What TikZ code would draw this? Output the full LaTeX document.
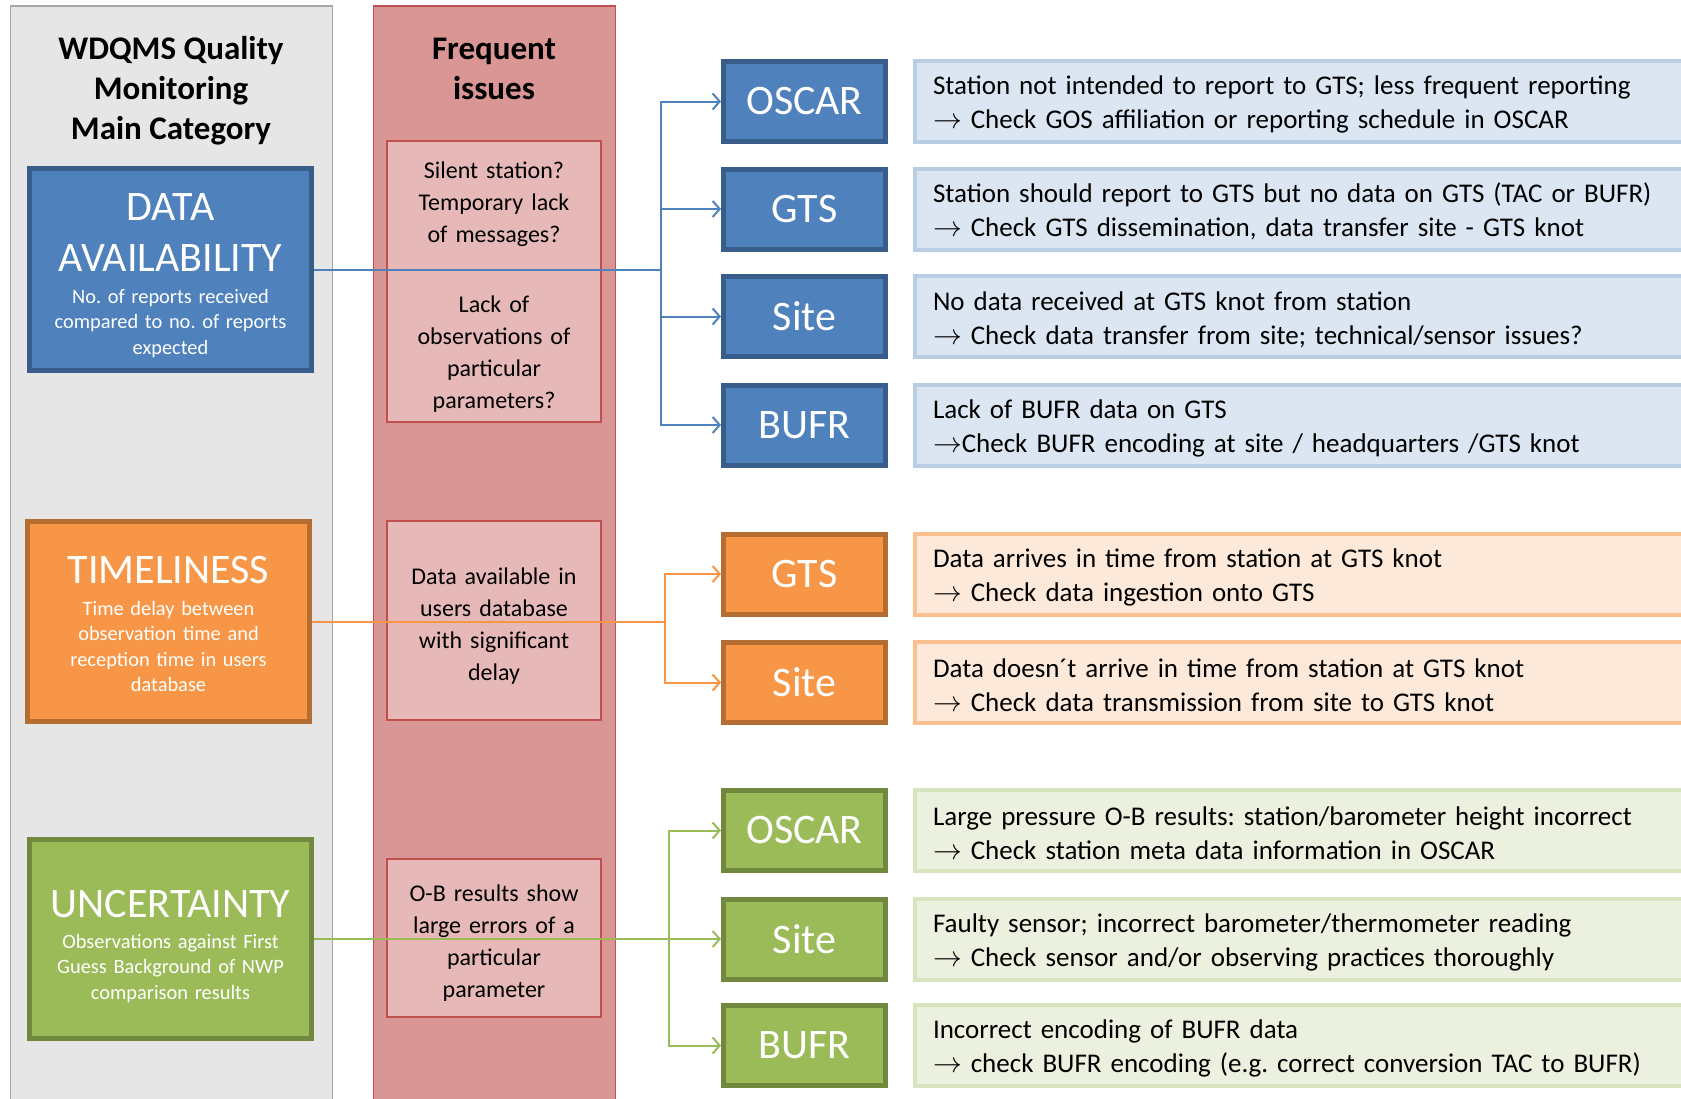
\documentclass[tikz,border=0pt]{standalone}
\usepackage{fontspec}
\setmainfont{Carlito}
\usetikzlibrary{arrows.meta}
\definecolor{colgray}{HTML}{E6E6E6}
\definecolor{colgrayb}{HTML}{A6A6A6}
\definecolor{colred}{HTML}{D99694}
\definecolor{colredb}{HTML}{C0504D}
\definecolor{colredin}{HTML}{E6B9B8}
\definecolor{cblue}{HTML}{4F81BD}
\definecolor{cblueb}{HTML}{385D8A}
\definecolor{lblue}{HTML}{DCE6F2}
\definecolor{lblueb}{HTML}{B9CDE5}
\definecolor{corange}{HTML}{F79646}
\definecolor{corangeb}{HTML}{B66D31}
\definecolor{lorange}{HTML}{FDE9D9}
\definecolor{lorangeb}{HTML}{FAC090}
\definecolor{cgreen}{HTML}{9BBB59}
\definecolor{cgreenb}{HTML}{71893F}
\definecolor{lgreen}{HTML}{EBF1DE}
\definecolor{lgreenb}{HTML}{D7E4BD}
\newcommand{\cattitle}[2]{{\fontsize{21}{25.5}\selectfont\rule{0pt}{#1}#2\par}\vspace{2.8pt}}
\newcommand{\catsub}[1]{{\fontsize{10.2}{12.8}\selectfont #1\par}}
\newcommand{\lift}[1]{\rule{0pt}{#1}}
\begin{document}
\frenchspacing
\begin{tikzpicture}[x=0.5pt,y=-0.5pt,
  column/.style={draw, line width=0.8pt, minimum width=#1, minimum height=562pt, inner sep=0pt},
  heading/.style={font=\fontsize{16.5}{20}\selectfont\bfseries, align=center, text=black},
  catbox/.style={line width=2.5pt, minimum width=141pt, text width=135pt, text=white, align=center, inner xsep=3pt, inner ysep=0pt},
  issue/.style={draw=colredb, fill=colredin, line width=0.8pt, minimum width=107pt, text width=103pt, align=center, inner xsep=2pt, inner ysep=0pt, font=\fontsize{12}{16}\selectfont},
  tag/.style={line width=2.5pt, minimum width=81pt, minimum height=40pt, text=white, inner sep=0pt, font=\fontsize{21}{25}\selectfont},
  info/.style={line width=2pt, anchor=west, minimum height=40.5pt, text width=374.5pt, inner xsep=9pt, align=left, font=\fontsize{13.5}{17}\selectfont},
  conn/.style={line width=1pt, draw=#1},
  arr/.style={-{Straight Barb[length=3.5pt,width=8pt,line width=1pt]}}
]
\clip (0,0) rectangle (1681,1098);
\fill[white] (0,0) rectangle (1681,1098);

% columns
\node[column=161pt, fill=colgray, draw=colgrayb] (graycol) at (171.5,568) {};
\node[column=121pt, fill=colred, draw=colredb] (redcol) at (494.5,568) {};
\node[heading] (h1) at (171,91) {WDQMS Quality\\Monitoring\\Main Category};
\node[heading] (h2) at (494,69) {Frequent\\issues};

% category boxes
\node[catbox, fill=cblue, draw=cblueb, minimum height=101pt] (da) at (170.5,269.5)
  {\cattitle{19.7pt}{DATA\\AVAILABILITY}\catsub{No. of reports received\\compared to no. of reports\\expected}};
\node[catbox, fill=corange, draw=corangeb, minimum height=100pt] (tl) at (168.5,621.5)
  {\cattitle{16.5pt}{TIMELINESS}\catsub{Time delay between\\observation time and\\reception time in users\\database}};
\node[catbox, fill=cgreen, draw=cgreenb, minimum height=99.5pt] (un) at (170.5,939)
  {\cattitle{21pt}{UNCERTAINTY}\catsub{Observations against First\\Guess Background of NWP\\comparison results}};

% issue boxes
\node[issue, minimum height=140.5pt] (i1) at (494,281.5)
  {\lift{13.5pt}Silent station?\\Temporary lack\\of messages?\\[19pt]Lack of\\observations of\\particular\\parameters?};
\node[issue, minimum height=99.5pt] (i2) at (494,620.5)
  {\lift{13.8pt}Data available in\\users database\\with significant\\delay};
\node[issue, minimum height=79pt] (i3) at (494,938)
  {\lift{13.3pt}O-B results show\\large errors of a\\particular\\parameter};

% tag boxes
\node[tag, fill=cblue, draw=cblueb] (b1) at (804.5,101.5) {OSCAR};
\node[tag, fill=cblue, draw=cblueb] (b2) at (804.5,209) {GTS};
\node[tag, fill=cblue, draw=cblueb] (b3) at (804.5,316.5) {Site};
\node[tag, fill=cblue, draw=cblueb] (b4) at (804.5,425) {BUFR};
\node[tag, fill=corange, draw=corangeb] (o1) at (804.5,574) {GTS};
\node[tag, fill=corange, draw=corangeb] (o2) at (804.5,682.5) {Site};
\node[tag, fill=cgreen, draw=cgreenb] (g1) at (804.5,830.5) {OSCAR};
\node[tag, fill=cgreen, draw=cgreenb] (g2) at (804.5,939) {Site};
\node[tag, fill=cgreen, draw=cgreenb] (g3) at (804.5,1045.5) {BUFR};

% info boxes
\node[info, fill=lblue, draw=lblueb] (t1) at (913,101.5) {\lift{12.5pt}Station not intended to report to GTS; less frequent reporting\\$\rightarrow$ Check GOS affiliation or reporting schedule in OSCAR};
\node[info, fill=lblue, draw=lblueb] (t2) at (913,209) {\lift{12.5pt}Station should report to GTS but no data on GTS (TAC or BUFR)\\$\rightarrow$ Check GTS dissemination, data transfer site - GTS knot};
\node[info, fill=lblue, draw=lblueb] (t3) at (913,316.5) {\lift{12.5pt}No data received at GTS knot from station\\$\rightarrow$ Check data transfer from site; technical/sensor issues?};
\node[info, fill=lblue, draw=lblueb] (t4) at (913,425) {\lift{12.5pt}Lack of BUFR data on GTS\\$\rightarrow$Check BUFR encoding at site / headquarters /GTS knot};
\node[info, fill=lorange, draw=lorangeb] (t5) at (913,574) {\lift{12.5pt}Data arrives in time from station at GTS knot\\$\rightarrow$ Check data ingestion onto GTS};
\node[info, fill=lorange, draw=lorangeb] (t6) at (913,682.5) {\lift{12.5pt}Data doesn´t arrive in time from station at GTS knot\\$\rightarrow$ Check data transmission from site to GTS knot};
\node[info, fill=lgreen, draw=lgreenb] (t7) at (913,830.5) {\lift{12.5pt}Large pressure O-B results: station/barometer height incorrect\\$\rightarrow$ Check station meta data information in OSCAR};
\node[info, fill=lgreen, draw=lgreenb] (t8) at (913,939) {\lift{12.5pt}Faulty sensor; incorrect barometer/thermometer reading\\$\rightarrow$ Check sensor and/or observing practices thoroughly};
\node[info, fill=lgreen, draw=lgreenb] (t9) at (913,1045.5) {\lift{12.5pt}Incorrect encoding of BUFR data\\$\rightarrow$ check BUFR encoding (e.g. correct conversion TAC to BUFR)};

% connectors
\coordinate (bj) at (661,269.5);
\draw[conn=cblue] (da.east) -- (bj);
\draw[conn=cblue, arr] (bj) |- (b1.west);
\draw[conn=cblue, arr] (bj) |- (b2.west);
\draw[conn=cblue, arr] (bj) |- (b3.west);
\draw[conn=cblue, arr] (bj) |- (b4.west);

\coordinate (oj) at (665,621.5);
\draw[conn=corange] (tl.east) -- (oj);
\draw[conn=corange, arr] (oj) |- (o1.west);
\draw[conn=corange, arr] (oj) |- (o2.west);

\coordinate (gj) at (669,939);
\draw[conn=cgreen, arr] (un.east) -- (g2.west);
\draw[conn=cgreen, arr] (gj) |- (g1.west);
\draw[conn=cgreen, arr] (gj) |- (g3.west);
\end{tikzpicture}
\end{document}
